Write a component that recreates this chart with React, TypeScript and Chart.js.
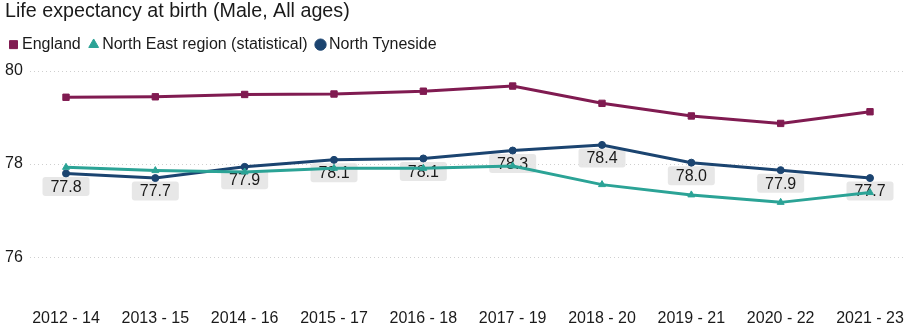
import React, { useEffect, useRef } from "react";
import { Chart, registerables } from "chart.js";

Chart.register(...registerables);

const categories = ["2012 - 14", "2013 - 15", "2014 - 16", "2015 - 17", "2016 - 18", "2017 - 19", "2018 - 20", "2019 - 21", "2020 - 22", "2021 - 23"];
const england = [79.43, 79.44, 79.49, 79.5, 79.56, 79.67, 79.3, 79.03, 78.87, 79.12];
const northEast = [77.93, 77.86, 77.83, 77.91, 77.91, 77.96, 77.56, 77.34, 77.18, 77.39];
const northTyneside = [77.8, 77.7, 77.94, 78.09, 78.12, 78.29, 78.41, 78.03, 77.87, 77.7];
const yTicks = [76, 78, 80];

const FONT = "Arial, 'Liberation Sans', sans-serif";

const legendSpacer = {
  id: "legendSpacer",
  beforeInit(chart: any) {
    const legend = chart.legend;
    const orig = legend.fit;
    legend.fit = function () {
      orig.call(this);
      this.height += 8;
    };
  },
};

const gridPlugin = {
  id: "fullGrid",
  beforeDatasetsDraw(chart: any) {
    const { ctx, scales } = chart;
    const y = scales.y;
    ctx.save();
    ctx.strokeStyle = "#cfcfcf";
    ctx.lineWidth = 1;
    ctx.setLineDash([1, 3]);
    for (const v of yTicks) {
      const py = Math.round(y.getPixelForValue(v)) + 0.5;
      ctx.beginPath();
      ctx.moveTo(30, py);
      ctx.lineTo(chart.width - 2, py);
      ctx.stroke();
    }
    ctx.restore();
  },
};

const labelPlugin = {
  id: "ntLabels",
  beforeDatasetsDraw(chart: any) {
    const { ctx } = chart;
    const meta = chart.getDatasetMeta(2);
    ctx.save();
    ctx.font = "16px " + FONT;
    ctx.textAlign = "center";
    ctx.textBaseline = "middle";
    meta.data.forEach((pt: any, i: number) => {
      const text = northTyneside[i].toFixed(1);
      const cx = pt.x;
      const cy = pt.y + 13;
      const w = 47, h = 19;
      ctx.fillStyle = "rgba(228,228,228,0.9)";
      ctx.beginPath();
      (ctx as any).roundRect(cx - w / 2, cy - h / 2, w, h, 3);
      ctx.fill();
      ctx.fillStyle = "#1a1a1a";
      ctx.fillText(text, cx, cy + 1);
    });
    ctx.restore();
  },
};

export default function App() {
  const ref = useRef<HTMLCanvasElement>(null);
  useEffect(() => {
    const chart = new Chart(ref.current!, {
      type: "line",
      data: {
        labels: categories,
        datasets: [
          {
            label: "England",
            data: england,
            borderColor: "#801b51",
            backgroundColor: "#801b51",
            borderWidth: 3,
            pointStyle: "rect",
            pointRadius: 4.5,
            pointBorderWidth: 1,
          },
          {
            label: "North East region (statistical)",
            data: northEast,
            borderColor: "#2ba396",
            backgroundColor: "#2ba396",
            borderWidth: 3,
            pointStyle: "triangle",
            pointRadius: 4,
            pointBorderWidth: 1,
          },
          {
            label: "North Tyneside",
            data: northTyneside,
            borderColor: "#1b4470",
            backgroundColor: "#1b4470",
            borderWidth: 3,
            pointStyle: "circle",
            pointRadius: 3.5,
            pointBorderWidth: 1,
          },
        ],
      },
      options: {
        animation: false,
        responsive: true,
        maintainAspectRatio: false,
        layout: { padding: { left: 5, right: 35, top: 0, bottom: 1.6 } },
        plugins: {
          title: {
            display: true,
            text: "Life expectancy at birth (Male, All ages)",
            align: "start",
            color: "#1a1a1a",
            font: { family: FONT, size: 19.7, weight: "normal" },
            padding: { top: 0, bottom: 5 },
          },
          legend: {
            display: true,
            align: "start",
            labels: {
              usePointStyle: true,
              boxWidth: 1,
              boxHeight: 8,
              padding: 8,
              color: "#1a1a1a",
              font: { family: FONT, size: 16 },
              generateLabels: (chart: any) => {
                const items = Chart.defaults.plugins.legend.labels.generateLabels(chart);
                return items.map((it: any) => ({ ...it, text: it.text + " " }));
              },
            },
          },
          tooltip: { enabled: false },
        },
        scales: {
          x: {
            offset: false,
            afterFit: (s: any) => {
              s.paddingRight = 0;
            },
            grid: { display: false, drawTicks: false },
            border: { display: false },
            ticks: {
              color: "#1a1a1a",
              font: { family: FONT, size: 16 },
              padding: 5,
              maxRotation: 0,
              autoSkip: false,
            },
          },
          y: {
            min: 75,
            max: 80,
            afterBuildTicks: (s: any) => {
              s.ticks = yTicks.map((v) => ({ value: v }));
            },
            afterFit: (s: any) => {
              s.width = 61;
            },
            grid: { display: false, drawTicks: false },
            border: { display: false },
            ticks: {
              crossAlign: "far",
              color: "#1a1a1a",
              font: { family: FONT, size: 16 },
              padding: 5,
            },
          },
        },
      },
      plugins: [legendSpacer, gridPlugin, labelPlugin],
    });
    return () => chart.destroy();
  }, []);
  return (
    <div style={{ position: "fixed", left: 0, top: 0, width: 905, height: 335 }}>
      <canvas ref={ref} />
    </div>
  );
}
